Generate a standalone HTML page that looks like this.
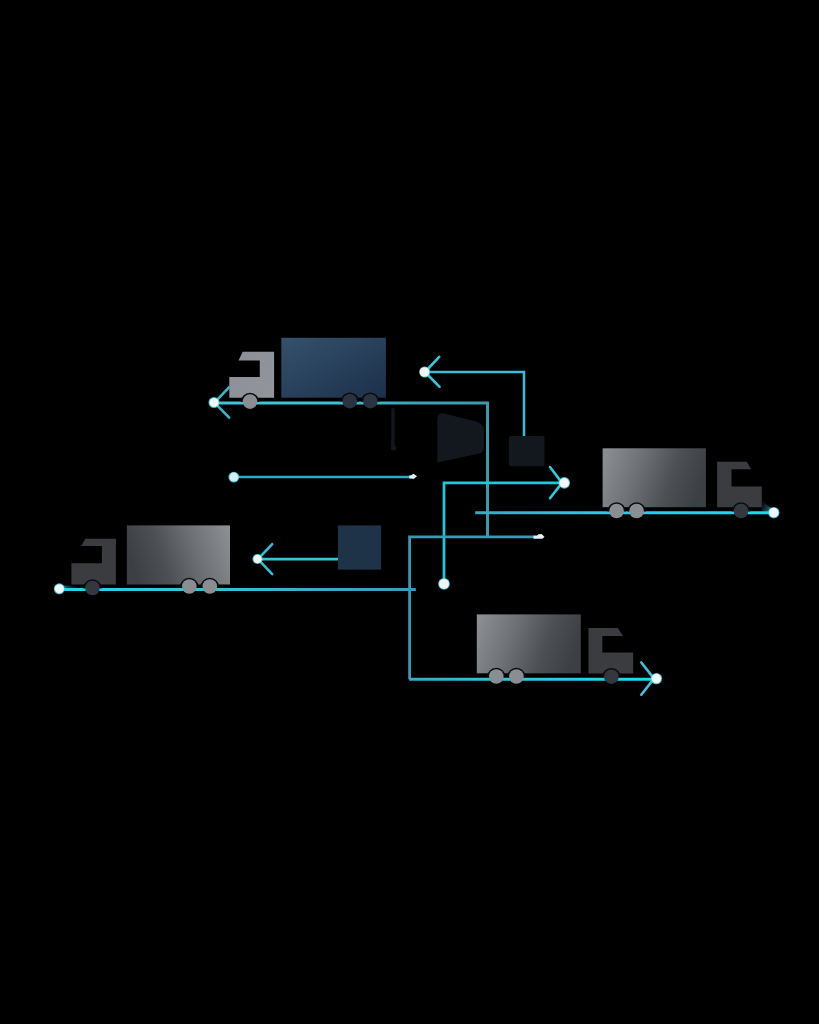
<!DOCTYPE html>
<html><head><meta charset="utf-8"><title>Logistics</title>
<style>
html,body{margin:0;padding:0;background:#000;width:819px;height:1024px;overflow:hidden;font-family:"Liberation Sans",sans-serif;}
svg{display:block;}
</style></head><body>
<svg width="819" height="1024" viewBox="0 0 819 1024">
<defs>
  <filter id="soft" x="-5%" y="-5%" width="110%" height="110%" color-interpolation-filters="sRGB"><feGaussianBlur stdDeviation="0.45"/></filter>
  <linearGradient id="blueCargo" x1="0" y1="0" x2="1" y2="1">
    <stop offset="0" stop-color="#35516d"/><stop offset="1" stop-color="#1c3049"/>
  </linearGradient>
  <linearGradient id="grayR" x1="0" y1="0.2" x2="1" y2="0.4">
    <stop offset="0" stop-color="#8a8e93"/><stop offset="0.35" stop-color="#6e7277"/><stop offset="0.7" stop-color="#4c4f54"/><stop offset="1" stop-color="#3c3f44"/>
  </linearGradient>
  <linearGradient id="grayL" x1="1" y1="0.2" x2="0" y2="0.4">
    <stop offset="0" stop-color="#8a8e93"/><stop offset="0.35" stop-color="#6e7277"/><stop offset="0.7" stop-color="#4c4f54"/><stop offset="1" stop-color="#3c3f44"/>
  </linearGradient>
  <linearGradient id="cabLight" x1="0" y1="0" x2="1" y2="1">
    <stop offset="0" stop-color="#8c9096"/><stop offset="1" stop-color="#92969c"/>
  </linearGradient>
  <linearGradient id="ln1" gradientUnits="userSpaceOnUse" x1="214" y1="0" x2="487" y2="0">
    <stop offset="0" stop-color="#3cc6da"/><stop offset="0.45" stop-color="#3cc2d6"/><stop offset="0.7" stop-color="#3aa6ba"/><stop offset="1" stop-color="#3a9aac"/>
  </linearGradient>
  <linearGradient id="ln2" gradientUnits="userSpaceOnUse" x1="475" y1="0" x2="774" y2="0">
    <stop offset="0" stop-color="#3aa8c0"/><stop offset="0.4" stop-color="#2ec8e0"/><stop offset="1" stop-color="#18dcee"/>
  </linearGradient>
  <linearGradient id="ln3" gradientUnits="userSpaceOnUse" x1="59" y1="0" x2="416" y2="0">
    <stop offset="0" stop-color="#22d4ea"/><stop offset="0.45" stop-color="#34c0d8"/><stop offset="1" stop-color="#3a9cb4"/>
  </linearGradient>
  <linearGradient id="ln4" gradientUnits="userSpaceOnUse" x1="409" y1="0" x2="656" y2="0">
    <stop offset="0" stop-color="#3aa8c4"/><stop offset="0.35" stop-color="#2cc4de"/><stop offset="1" stop-color="#18dcee"/>
  </linearGradient>
  <filter id="glow" x="-100%" y="-100%" width="300%" height="300%" color-interpolation-filters="sRGB"><feGaussianBlur stdDeviation="0.7"/></filter>
  <linearGradient id="wedgeR" gradientUnits="userSpaceOnUse" x1="762" y1="502" x2="773" y2="510">
    <stop offset="0" stop-color="#0c1a1e" stop-opacity="0.3"/><stop offset="1" stop-color="#2a8896"/>
  </linearGradient>
  <linearGradient id="wedgeL" gradientUnits="userSpaceOnUse" x1="78" y1="587" x2="60" y2="587">
    <stop offset="0" stop-color="#0c1a1e" stop-opacity="0.3"/><stop offset="1" stop-color="#2a8896"/>
  </linearGradient>
</defs>
<rect width="819" height="1024" fill="#000"/>
<g filter="url(#soft)">

<!-- ============ Truck 1 (top, facing left, blue cargo) ============ -->
<polygon points="242.7,351.7 274.1,351.7 274.1,397.8 229.3,397.8 229.3,377 259.8,377 259.8,360.5 238.5,360.5" fill="url(#cabLight)"/>
<rect x="281.3" y="337.8" width="104.6" height="59.9" fill="url(#blueCargo)"/>
<!-- line -->
<path d="M214,402.9 H489" fill="none" stroke="url(#ln1)" stroke-width="3"/>
<path d="M487.5,402.9 V536.5" fill="none" stroke="#3a9aac" stroke-width="3"/>
<path d="M229.2,387.2 L214.5,402.7 L229.2,417.6" fill="none" stroke="#3ab4cc" stroke-width="2.6" stroke-linecap="round" stroke-linejoin="round"/>
<path d="M241.7,402.1 A8.3,8.3 0 1 1 258.3,402.1" fill="none" stroke="#0c0c0e" stroke-width="2"/><circle cx="250.0" cy="401.6" r="7.3" fill="#8a8e93"/>
<path d="M341.5,401.7 A8.3,8.3 0 1 1 358.1,401.7" fill="none" stroke="#0c0c0e" stroke-width="2"/><circle cx="349.8" cy="401.2" r="7.3" fill="#2a3340"/>
<path d="M362.0,401.7 A8.3,8.3 0 1 1 378.6,401.7" fill="none" stroke="#0c0c0e" stroke-width="2"/><circle cx="370.3" cy="401.2" r="7.3" fill="#2a3340"/>
<circle cx="214" cy="402.5" r="5.5" fill="#48d8ea" opacity="0.85" filter="url(#glow)"/>
<circle cx="214" cy="402.5" r="4.6" fill="#eef6f6"/>

<!-- ============ top arrow ============ -->
<path d="M424.7,372 H524 V437" fill="none" stroke="#3abcd6" stroke-width="2.5"/>
<path d="M439.2,356.8 L425,372 L439.6,386.9" fill="none" stroke="#38c4dc" stroke-width="2.6" stroke-linecap="round" stroke-linejoin="round"/>
<circle cx="424.7" cy="372" r="5.5" fill="#48d8ea" opacity="0.85" filter="url(#glow)"/>
<circle cx="424.5" cy="372" r="4.8" fill="#f0f6f6"/>

<!-- dark shapes -->
<rect x="508.9" y="436" width="35.6" height="30.2" rx="2" fill="#13181f"/>
<path d="M437.3,462.5 L437.3,419 Q437.5,413.3 443,413.3 L476,421.5 Q484,424 484,430 L484,448 Q484,452.5 479,453.6 Z" fill="#13181f"/>
<rect x="391.3" y="408" width="3.4" height="42" rx="1.6" fill="#13171d"/><circle cx="393.6" cy="447.8" r="2.6" fill="#13171d"/>

<!-- ============ middle bright path ============ -->
<path d="M444,583.9 V482.9 H564" fill="none" stroke="#1ccade" stroke-width="2.7"/>
<path d="M550,467 L562,482.9 L550,498.3" fill="none" stroke="#2ccadc" stroke-width="2.6" stroke-linecap="round" stroke-linejoin="round"/>
<circle cx="444" cy="583.9" r="5.9" fill="#48d8ea" opacity="0.85" filter="url(#glow)"/>
<circle cx="444" cy="583.9" r="5.0" fill="#f0f6f6"/>
<circle cx="564.3" cy="482.9" r="5.8" fill="#48d8ea" opacity="0.85" filter="url(#glow)"/>
<circle cx="564.3" cy="482.9" r="4.9" fill="#f2f8f8"/>

<!-- ============ Truck 2 (right, facing right) ============ -->
<rect x="602.6" y="448.3" width="103.3" height="58.9" fill="url(#grayR)"/>
<polygon points="717.1,461.7 746.8,461.7 751,469.3 731.5,469.3 731.5,486.4 761.8,486.4 761.8,507.2 717.1,507.2" fill="#3a3c40"/>
<path d="M761.8,497 L764.5,502.5 L768,506 L772,508 L773,513 L761.8,511 Z" fill="url(#wedgeR)"/>
<path d="M475.2,512.8 H774" fill="none" stroke="url(#ln2)" stroke-width="3"/>
<path d="M608.3,511.5 A8.3,8.3 0 1 1 624.9,511.5" fill="none" stroke="#0c0c0e" stroke-width="2"/><circle cx="616.6" cy="511.0" r="7.3" fill="#8a8e93"/>
<path d="M628.3,511.5 A8.3,8.3 0 1 1 644.9,511.5" fill="none" stroke="#0c0c0e" stroke-width="2"/><circle cx="636.6" cy="511.0" r="7.3" fill="#8a8e93"/>
<path d="M732.7,511.5 A8.3,8.3 0 1 1 749.3,511.5" fill="none" stroke="#0c0c0e" stroke-width="2"/><circle cx="741.0" cy="511.0" r="7.3" fill="#34373d"/>
<circle cx="773.8" cy="512.6" r="5.7" fill="#48d8ea" opacity="0.85" filter="url(#glow)"/>
<circle cx="773.8" cy="512.6" r="4.8" fill="#f2f8f8"/>

<!-- ============ middle-left line ============ -->
<path d="M233.8,477 H410" fill="none" stroke="#2fa8c4" stroke-width="2.6" stroke-linecap="round" stroke-linejoin="round"/>
<path d="M409.2,475.6 L411,475.2 L413.5,473.8 L417,476.2 L413.5,479 L411,478.6 L409.2,478.6 Z" fill="#e4f0f2"/>
<circle cx="233.8" cy="477.1" r="5.4" fill="#48d8ea" opacity="0.85" filter="url(#glow)"/>
<circle cx="233.8" cy="477.1" r="4.5" fill="#d6ecee"/>

<!-- box + arrow -->
<rect x="337.9" y="525.4" width="43.2" height="44.2" fill="#1e3248"/>
<path d="M257.5,559.2 H338" fill="none" stroke="#36c4dc" stroke-width="2.8"/>
<path d="M272.2,544.2 L258,559.2 L272.2,574.1" fill="none" stroke="#38bcd4" stroke-width="2.6" stroke-linecap="round" stroke-linejoin="round"/>
<circle cx="257.5" cy="559" r="5.1" fill="#48d8ea" opacity="0.85" filter="url(#glow)"/>
<circle cx="257.5" cy="559" r="4.2" fill="#eef6f6"/>

<!-- ============ Truck 3 (left bottom, facing left) ============ -->
<polygon points="85.4,538.7 115.9,538.7 115.9,584.6 71.4,584.6 71.4,563.3 101.9,563.3 101.9,546 81.1,546" fill="#3a3c40"/>
<rect x="126.9" y="525.4" width="103.1" height="59.1" fill="url(#grayL)"/>
<path d="M78,586.5 L66,585.6 L60,585.5 L60,591 L78,590 Z" fill="url(#wedgeL)"/>
<path d="M59.2,589.4 H415.8" fill="none" stroke="url(#ln3)" stroke-width="3"/>
<path d="M84.2,588.5 A8.3,8.3 0 1 1 100.8,588.5" fill="none" stroke="#0c0c0e" stroke-width="2"/><circle cx="92.5" cy="588.0" r="7.3" fill="#34373d"/>
<path d="M181.0,587.0 A8.3,8.3 0 1 1 197.6,587.0" fill="none" stroke="#0c0c0e" stroke-width="2"/><circle cx="189.3" cy="586.5" r="7.3" fill="#8a8e93"/>
<path d="M201.5,587.0 A8.3,8.3 0 1 1 218.1,587.0" fill="none" stroke="#0c0c0e" stroke-width="2"/><circle cx="209.8" cy="586.5" r="7.3" fill="#8a8e93"/>
<circle cx="59.3" cy="588.8" r="5.5" fill="#48d8ea" opacity="0.85" filter="url(#glow)"/>
<circle cx="59.3" cy="588.8" r="4.6" fill="#f2f8f8"/>

<!-- ============ teal connector ============ -->
<path d="M409.6,679.3 V536.8 H534" fill="none" stroke="#3a98b0" stroke-width="2.8"/>
<path d="M533.5,535.4 L537,535.4 L538.5,534.2 L541.5,534 L544.5,536.8 L542.5,538.8 L533.5,538.8 Z" fill="#e4f0f2"/>

<!-- ============ Truck 4 (bottom, facing right) ============ -->
<rect x="476.8" y="614.4" width="104" height="58.9" fill="url(#grayR)"/>
<polygon points="588.5,627.9 617.8,627.9 623.1,636 602.3,636 602.3,652.4 633.2,652.4 633.2,673.6 588.5,673.6" fill="#3a3c40"/>
<path d="M409.2,679.3 H656.4" fill="none" stroke="url(#ln4)" stroke-width="3"/>
<path d="M641.3,662.5 L654,678.6 L641.3,694.7" fill="none" stroke="#3cc2da" stroke-width="2.6" stroke-linecap="round" stroke-linejoin="round"/>
<path d="M488.0,677.0 A8.3,8.3 0 1 1 504.6,677.0" fill="none" stroke="#0c0c0e" stroke-width="2"/><circle cx="496.3" cy="676.5" r="7.3" fill="#8a8e93"/>
<path d="M508.1,677.0 A8.3,8.3 0 1 1 524.7,677.0" fill="none" stroke="#0c0c0e" stroke-width="2"/><circle cx="516.4" cy="676.5" r="7.3" fill="#8a8e93"/>
<path d="M603.1,677.2 A8.3,8.3 0 1 1 619.7,677.2" fill="none" stroke="#0c0c0e" stroke-width="2"/><circle cx="611.4" cy="676.7" r="7.3" fill="#34373d"/>
<circle cx="656.4" cy="678.6" r="5.7" fill="#48d8ea" opacity="0.85" filter="url(#glow)"/>
<circle cx="656.4" cy="678.6" r="4.8" fill="#f2f8f8"/>

</g>
</svg>
</body></html>
